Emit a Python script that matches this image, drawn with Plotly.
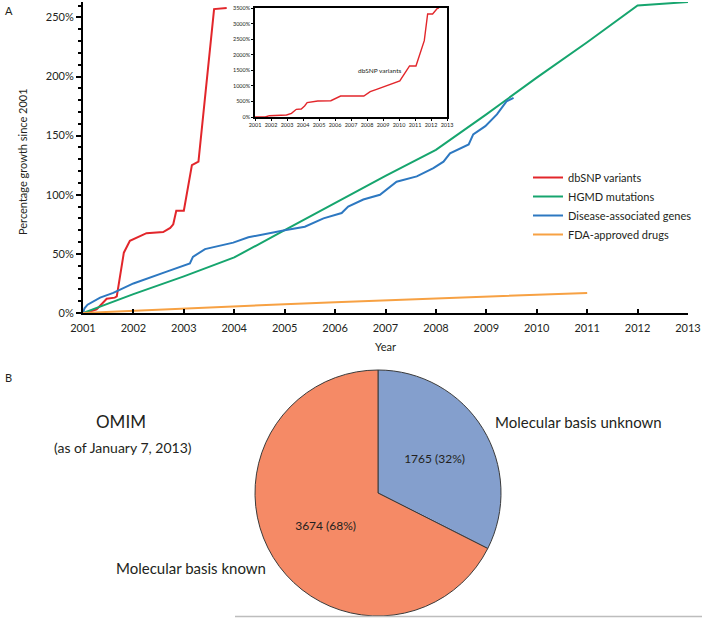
import plotly.graph_objects as go

W, H = 702, 618
FONT = "Lato"
TXT = "#231F20"

# ---------------- data ----------------
dbsnp_year = [2001.0, 2001.05, 2001.27, 2001.47, 2001.63, 2001.67, 2001.81, 2001.93, 2002.26,
              2002.59, 2002.73, 2002.79, 2002.85, 2003.0, 2003.16, 2003.29, 2003.6, 2003.85]
dbsnp_pct = [0, 0, 3, 12, 13, 14, 51, 61, 67.5, 68.5, 72, 75, 86.5, 86.5, 125, 128, 257, 258]

hgmd_year = [2001, 2002, 2003, 2004, 2005, 2006, 2007, 2008, 2009, 2010, 2011, 2012, 2013]
hgmd_pct = [0, 16, 31, 47, 70, 93, 116, 138, 168, 199, 229, 260, 263]

disease_year = [2001.0, 2001.03, 2001.09, 2001.34, 2001.6, 2002.0, 2002.66, 2003.12, 2003.18,
                2003.42, 2003.98, 2004.28, 2005.0, 2005.4, 2005.77, 2006.13, 2006.26, 2006.56,
                2006.89, 2007.22, 2007.62, 2007.95, 2008.15, 2008.28, 2008.65, 2008.74, 2008.98,
                2009.21, 2009.4, 2009.54]
disease_pct = [0, 4, 7, 13, 17, 25, 35, 42, 47.5, 54, 59.5, 64, 70, 73, 80, 84.5, 90, 96,
               100, 111, 115.5, 122.5, 128, 135, 142.5, 151, 158, 168, 179, 182]

fda_year = [2001, 2002, 2003, 2004, 2005, 2006, 2007, 2008, 2009, 2010, 2011]
fda_pct = [0, 2, 4, 6, 7.5, 9, 10.5, 12, 13.5, 15, 17]

inset_year = [2001.0, 2001.64, 2001.9, 2002.97, 2003.28, 2003.58, 2003.89, 2004.1, 2004.26,
              2004.92, 2005.74, 2006.05, 2006.35, 2007.8, 2008.2, 2008.6, 2010.05, 2010.66,
              2011.06, 2011.58, 2011.79, 2012.1, 2012.4, 2012.5]
inset_pct = [0, 0, 42, 64, 119, 247, 257, 353, 460, 514, 524, 600, 674, 674, 813, 889, 1156,
             1638, 1638, 2450, 3307, 3307, 3490, 3500]

year_ticks = list(range(2001, 2014))
main_pct_ticks = [0, 50, 100, 150, 200, 250]
inset_pct_ticks = list(range(0, 3501, 500))

pie_labels = ["Molecular basis unknown", "Molecular basis known"]
pie_values = [1765, 3674]

series_names = ["dbSNP variants", "HGMD mutations", "Disease-associated genes", "FDA-approved drugs"]
series_colors = ["#E2262B", "#16A56E", "#2D78C1", "#F7A143"]
pie_colors = ["#849FCD", "#F58A66"]

# ---------------- helpers ----------------
def px_x(p):
    return p / W

def px_y(p):
    return 1 - p / H

fig = go.Figure()

series = [(dbsnp_year, dbsnp_pct), (hgmd_year, hgmd_pct), (disease_year, disease_pct), (fda_year, fda_pct)]
for (xs, ys), name, col in zip(series, series_names, series_colors):
    fig.add_trace(go.Scatter(x=xs, y=ys, mode="lines", name=name,
                             line=dict(color=col, width=2), xaxis="x", yaxis="y", cliponaxis=True))

fig.add_trace(go.Scatter(x=inset_year, y=inset_pct, mode="lines", showlegend=False,
                         line=dict(color=series_colors[0], width=1.4), xaxis="x2", yaxis="y2"))

fig.add_trace(go.Pie(labels=pie_labels, values=pie_values, sort=False, direction="clockwise",
                     rotation=0, marker=dict(colors=pie_colors, line=dict(color="#3a3a3a", width=1)),
                     texttemplate="%{value} (%{percent:.0%})", textposition="inside",
                     insidetextorientation="horizontal",
                     textfont=dict(family=FONT, size=12, color=TXT), showlegend=False,
                     domain=dict(x=[px_x(378 - 123), px_x(378 + 123)], y=[px_y(493 + 123), px_y(493 - 123)])))

axis_font = dict(family=FONT, size=11, color=TXT)
small_font = dict(family=FONT, size=5.5, color=TXT)
fig.update_layout(
    width=W, height=H, margin=dict(l=0, r=0, t=0, b=0, autoexpand=False),
    paper_bgcolor="white", plot_bgcolor="white",
    font=dict(family=FONT, color=TXT),
    xaxis=dict(domain=[px_x(83), px_x(688)], range=[2001, 2013], tickvals=year_ticks,
               ticktext=[str(y) for y in year_ticks], showline=True, linecolor="black", linewidth=2,
               ticks="inside", ticklen=4, tickcolor="black", tickwidth=1.5, showgrid=False,
               zeroline=False, tickfont=axis_font, ticklabelstandoff=4, anchor="y",
               automargin=False, tickangle=0),
    yaxis=dict(domain=[px_y(313), px_y(2)], range=[0, 263], tickvals=main_pct_ticks,
               ticktext=[f"{v}%" for v in main_pct_ticks], showline=True, linecolor="black",
               linewidth=2, ticks="outside", ticklen=5, tickcolor="black", tickwidth=1.5,
               minor=dict(dtick=10, tick0=0, ticks="outside", ticklen=3, tickcolor="black"),
               showgrid=False, zeroline=False, tickfont=axis_font, anchor="x", automargin=False),
    xaxis2=dict(domain=[px_x(255), px_x(447)], range=[2001, 2013], tickvals=year_ticks,
                ticktext=[str(y) for y in year_ticks], showline=True, mirror=True, linecolor="black",
                linewidth=1.5, ticks="outside", ticklen=2, tickcolor="black", showgrid=False,
                zeroline=False, tickfont=small_font, anchor="y2", automargin=False, tickangle=0),
    yaxis2=dict(domain=[px_y(117), px_y(8)], range=[0, 3500], tickvals=inset_pct_ticks,
                ticktext=[f"{v}%" for v in inset_pct_ticks], showline=True, mirror=True,
                linecolor="black", linewidth=1.5, ticks="outside", ticklen=2, tickcolor="black",
                showgrid=False, zeroline=False, tickfont=small_font, anchor="x2", automargin=False),
    legend=dict(x=px_x(528), y=px_y(163), xanchor="left", yanchor="top",
                font=dict(family=FONT, size=11, color=TXT), bgcolor="rgba(0,0,0,0)",
                tracegroupgap=0, itemwidth=30),
    showlegend=True,
)

annotations = [
    dict(text="A", x=px_x(9), y=px_y(10), font=dict(size=11)),
    dict(text="B", x=px_x(8), y=px_y(377), font=dict(size=11)),
    dict(text="Year", x=px_x(385), y=px_y(346), font=dict(size=11)),
    dict(text="Percentage growth since 2001", x=px_x(22), y=px_y(162), textangle=-90,
         font=dict(size=11)),
    dict(text="dbSNP variants", x=2008.75, y=1480, xref="x2", yref="y2", font=dict(size=6.5)),
    dict(text="OMIM", x=px_x(121), y=px_y(421), font=dict(size=17)),
    dict(text="(as of January 7, 2013)", x=px_x(123), y=px_y(447), font=dict(size=14)),
    dict(text="Molecular basis unknown", x=px_x(493), y=px_y(422), xanchor="left",
         font=dict(size=15)),
    dict(text="Molecular basis known", x=px_x(268), y=px_y(568), xanchor="right",
         font=dict(size=15)),
]
for a in annotations:
    a.setdefault("xref", "paper")
    a.setdefault("yref", "paper")
    a.setdefault("xanchor", "center")
    a["yanchor"] = "middle"
    a["showarrow"] = False
    a["font"] = dict(family=FONT, color=TXT, **a["font"])
fig.update_layout(annotations=annotations)

fig.add_shape(type="line", xref="paper", yref="paper", x0=px_x(235), x1=1, y0=px_y(616.5),
              y1=px_y(616.5), line=dict(color="#BDBDBD", width=1.5))

fig.write_html(
    "out.html",
    config={"displayModeBar": False},
    post_script="document.body.style.margin='0';document.body.style.overflow='hidden';"
                "document.documentElement.style.overflow='hidden';",
)
